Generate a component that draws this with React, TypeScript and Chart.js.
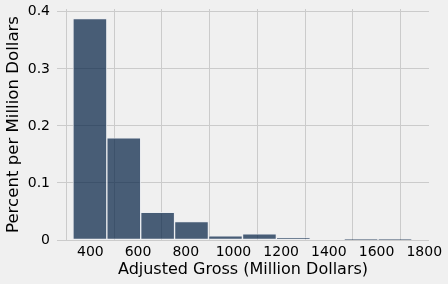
import React, { useEffect, useRef } from "react";
import { Chart, registerables } from "chart.js";

Chart.register(...registerables);

const binEdges = [327, 469, 611, 753, 895, 1038, 1180, 1322, 1464, 1606, 1749];
const percentPerMillion = [0.388, 0.179, 0.0485, 0.0325, 0.0072, 0.0107, 0.0042, null, 0.0012, 0.0012];
const xTicks = [400, 600, 800, 1000, 1200, 1400, 1600, 1800];
const yTicks = [0, 0.1, 0.2, 0.3, 0.4];
const xTitle = "Adjusted Gross (Million Dollars)";
const yTitle = "Percent per Million Dollars";

export default function App() {
  const ref = useRef<HTMLCanvasElement | null>(null);
  useEffect(() => {
    document.body.style.margin = "0";
    document.body.style.background = "#f0f0f0";
    const canvas = ref.current!;
    const points = percentPerMillion.map((v, i) => ({
      x: (binEdges[i] + binEdges[i + 1]) / 2,
      y: v,
    }));
    const font = "'DejaVu Sans', sans-serif";
    const chart = new Chart(canvas, {
      type: "bar",
      data: {
        datasets: [
          {
            data: points as any,
            backgroundColor: "rgba(0,30,66,0.7)",
            borderColor: "rgba(235,238,242,0.75)",
            borderWidth: 1,
            borderSkipped: false,
            barPercentage: 1,
            categoryPercentage: 1,
          },
        ],
      },
      options: {
        animation: false,
        responsive: false,
        maintainAspectRatio: false,
        layout: { padding: { top: 9, right: 19, left: 0, bottom: 0 } },
        plugins: { legend: { display: false }, tooltip: { enabled: false } },
        scales: {
          x: {
            type: "linear",
            min: 260,
            max: 1820,
            offset: false,
            afterBuildTicks: (scale: any) => {
              scale.ticks = xTicks.map((v) => ({ value: v }));
            },
            afterFit: (scale: any) => {
              scale.height = 44;
              scale.paddingLeft = 0;
              scale.paddingRight = 0;
            },
            grid: { color: "#cbcbcb", lineWidth: 1, drawTicks: false },
            border: { display: false },
            ticks: {
              color: "#000",
              padding: 4,
              maxRotation: 0,
              autoSkip: false,
              font: { family: font, size: 14 },
              callback: (v: any) => String(v),
            },
            title: {
              display: true,
              text: xTitle,
              color: "#000",
              padding: { top: 0, bottom: 5 },
              font: { family: font, size: 16 },
            },
          },
          y: {
            type: "linear",
            min: 0,
            max: 0.405,
            afterBuildTicks: (scale: any) => {
              scale.ticks = yTicks.map((v) => ({ value: v }));
            },
            afterFit: (scale: any) => {
              scale.width = 57;
              scale.paddingTop = 0;
              scale.paddingBottom = 0;
            },
            grid: { color: "#cbcbcb", lineWidth: 1, drawTicks: false },
            border: { display: false },
            ticks: {
              color: "#000",
              padding: 7,
              font: { family: font, size: 14 },
              callback: (v: any) => (v === 0 ? "0" : String(v)),
            },
            title: {
              display: true,
              text: yTitle,
              color: "#000",
              padding: { top: 4, bottom: 0 },
              font: { family: font, size: 16.6 },
            },
          },
        },
      },
    } as any);
    return () => chart.destroy();
  }, []);
  return (
    <div style={{ width: 448, height: 284, background: "#f0f0f0" }}>
      <canvas ref={ref} width={448} height={284} style={{ display: "block" }} />
    </div>
  );
}
